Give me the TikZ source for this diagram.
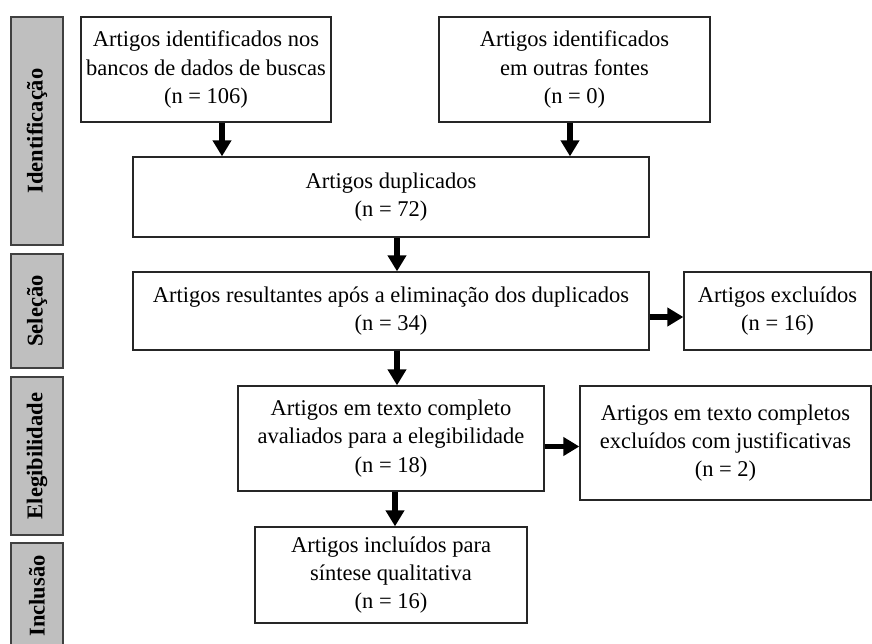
\documentclass[tikz,border=0pt]{standalone}
\usepackage{fontspec}
\setmainfont{Liberation Serif}
\usetikzlibrary{arrows.meta,calc}
\begin{document}
\begin{tikzpicture}[x=1pt,y=-1pt,
  box/.style={draw=black!85, line width=1.3pt, fill=white, align=center, inner sep=0pt,
    font=\fontsize{22.5}{28.3}\selectfont},
  side/.style={draw=black!75, line width=1.3pt, fill=black!25, inner sep=0pt,
    font=\fontsize{22.5}{24}\selectfont\bfseries, rotate=90},
  arr/.style={line width=5.5pt, -{Triangle[width=18pt,length=16pt]}}]
\useasboundingbox (0,0) rectangle (872,644);
\clip (0,0) rectangle (872,644);
% side labels
\node[side, minimum width=228pt, minimum height=52pt] (s1) at (37,131) {Identificação};
\node[side, minimum width=114pt, minimum height=52pt] (s2) at (37,311) {Seleção};
\node[side, minimum width=158pt, minimum height=52pt] (s3) at (37,456) {Elegibilidade};
\node[side, minimum width=106pt, minimum height=52pt] (s4) at (37,596) {Inclusão};
% boxes
\node[box, minimum width=250pt, minimum height=105pt] (b1) at (206,69.5)
  {Artigos identificados nos\\bancos de dados de buscas\\(n = 106)};
\node[box, minimum width=271pt, minimum height=105pt] (b2) at (574.5,69.5)
  {Artigos identificados\\em outras fontes\\(n = 0)};
\node[box, minimum width=516pt, minimum height=80pt] (b3) at (391,197)
  {Artigos duplicados\\(n = 72)};
\node[box, minimum width=516pt, minimum height=78pt] (b4) at (391,311)
  {Artigos resultantes após a eliminação dos duplicados\\(n = 34)};
\node[box, minimum width=187pt, minimum height=78pt] (b5) at (777.5,311)
  {Artigos excluídos\\(n = 16)};
\node[box, minimum width=306pt, minimum height=105pt] (b6) at (391,438.5)
  {Artigos em texto completo\\avaliados para a elegibilidade\\(n = 18)};
\node[box, minimum width=291pt, minimum height=114pt] (b7) at (725.5,443)
  {Artigos em texto completos\\excluídos com justificativas\\(n = 2)};
\node[box, minimum width=272pt, minimum height=96pt] (b8) at (391,575)
  {Artigos incluídos para\\síntese qualitativa\\(n = 16)};
% arrows
\draw[arr] ([xshift=16pt]b1.south) -- ([xshift=16pt]b1.south |- b3.north);
\draw[arr] ([xshift=-4.5pt]b2.south) -- ([xshift=-4.5pt]b2.south |- b3.north);
\draw[arr] ([xshift=6pt]b3.south) -- ([xshift=6pt]b3.south |- b4.north);
\draw[arr] ([xshift=6pt]b4.south) -- ([xshift=6pt]b4.south |- b6.north);
\draw[arr] ([xshift=4pt]b6.south) -- ([xshift=4pt]b6.south |- b8.north);
\draw[arr] ([yshift=-6pt]b4.east) -- ([yshift=-6pt]b4.east -| b5.west);
\draw[arr] ([yshift=-8pt]b6.east) -- ([yshift=-8pt]b6.east -| b7.west);
\end{tikzpicture}
\end{document}
